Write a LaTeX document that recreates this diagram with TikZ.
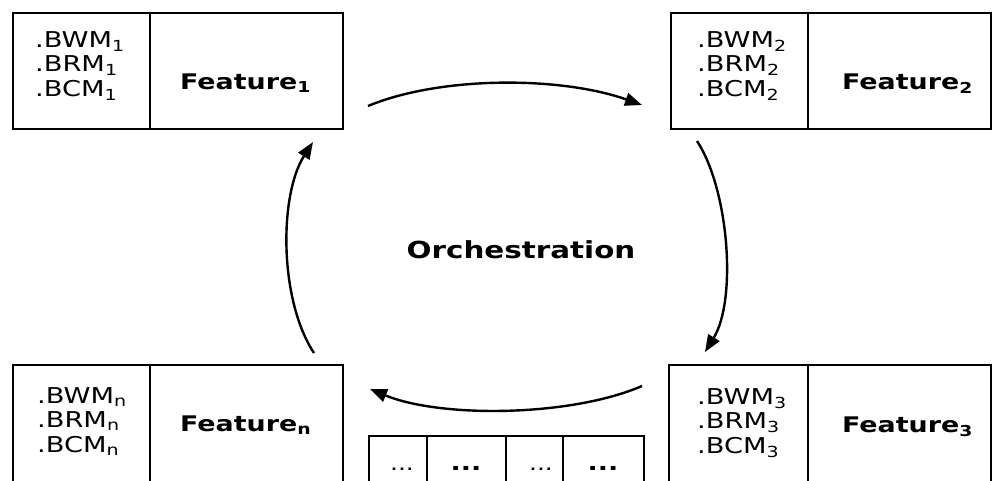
\documentclass[tikz,border=0pt]{standalone}
\usepackage{fontspec}
\setmainfont{DejaVu Sans}[FakeStretch=1.25]
\usetikzlibrary{arrows.meta}

\begin{document}
\begin{tikzpicture}[x=1pt,y=-1pt,
    cell/.style={draw,line width=2pt,inner sep=0pt,anchor=north west},
    attrs/.style={inner sep=0pt,anchor=north west,align=left,font=\fontsize{21.8}{24.5}\selectfont},
    feat/.style={inner sep=0pt,anchor=base west,font=\fontsize{21.5}{24}\selectfont\bfseries},
    flow/.style={line width=2.4pt,-{Triangle[length=17pt,width=13pt]}}]
  \useasboundingbox (0,0) rectangle (992,480);
  \clip (0,0) rectangle (992,480);
  % feature 1
  \node[cell,minimum width=137pt,minimum height=116pt] (L1) at (12,12) {};
  \node[cell,minimum width=193pt,minimum height=116pt] (R1) at (149,12) {};
  \node[attrs] (m1) at (35,31) {.BWM\textsubscript{1}\\.BRM\textsubscript{1}\\.BCM\textsubscript{1}};
  \node[feat] (f1) at (180,89) {Feature\textsubscript{1}};
  % feature 2
  \node[cell,minimum width=137pt,minimum height=116pt] (L2) at (670,12) {};
  \node[cell,minimum width=183pt,minimum height=116pt] (R2) at (807,12) {};
  \node[attrs] (m2) at (697,31) {.BWM\textsubscript{2}\\.BRM\textsubscript{2}\\.BCM\textsubscript{2}};
  \node[feat] (f2) at (842,89) {Feature\textsubscript{2}};
  % feature n
  \node[cell,minimum width=137pt,minimum height=150pt] (Ln) at (12,364) {};
  \node[cell,minimum width=193pt,minimum height=150pt] (Rn) at (149,364) {};
  \node[attrs] (mn) at (37,387) {.BWM\textsubscript{n}\\.BRM\textsubscript{n}\\.BCM\textsubscript{n}};
  \node[feat] (fn) at (180,431) {Feature\textsubscript{n}};
  % feature 3
  \node[cell,minimum width=139pt,minimum height=150pt] (L3) at (668,364) {};
  \node[cell,minimum width=183pt,minimum height=150pt] (R3) at (807,364) {};
  \node[attrs] (m3) at (697,388) {.BWM\textsubscript{3}\\.BRM\textsubscript{3}\\.BCM\textsubscript{3}};
  \node[feat] (f3) at (842,432) {Feature\textsubscript{3}};
  % more features
  \node[cell,minimum width=58pt,minimum height=80pt] (D1) at (368,435) {};
  \node[cell,minimum width=79pt,minimum height=80pt] (D2) at (426,435) {};
  \node[cell,minimum width=57pt,minimum height=80pt] (D3) at (505,435) {};
  \node[cell,minimum width=81pt,minimum height=80pt] (D4) at (562,435) {};
  \node[anchor=base,inner sep=0pt,font=\fontsize{20}{24}\selectfont] (e1) at (402,470) {...};
  \node[anchor=base,inner sep=0pt,font=\fontsize{21.5}{24}\selectfont\bfseries] (e2) at (466,470) {...};
  \node[anchor=base,inner sep=0pt,font=\fontsize{20}{24}\selectfont] (e3) at (541,470) {...};
  \node[anchor=base,inner sep=0pt,font=\fontsize{21.5}{24}\selectfont\bfseries] (e4) at (603,470) {...};
  \node[anchor=base,inner sep=0pt,font=\fontsize{23.5}{26}\selectfont\bfseries] (orch) at (521,258) {Orchestration};
  % the cycle
  \coordinate (a1) at (368,106); \coordinate (b1) at (642,105);
  \coordinate (a2) at (697,141); \coordinate (b2) at (705,352);
  \coordinate (a3) at (642,386); \coordinate (b3) at (370,389);
  \coordinate (a4) at (314,353); \coordinate (b4) at (313,142);
  \draw[flow] (a1) .. controls +(72,-30) and +(-82,-29) .. (b1);
  \draw[flow] (a2) .. controls +(32,49) and +(32,-52) .. (b2);
  \draw[flow] (a3) .. controls +(-72,31) and +(70,29) .. (b3);
  \draw[flow] (a4) .. controls +(-35,-53) and +(-34,53) .. (b4);
\end{tikzpicture}
\end{document}
